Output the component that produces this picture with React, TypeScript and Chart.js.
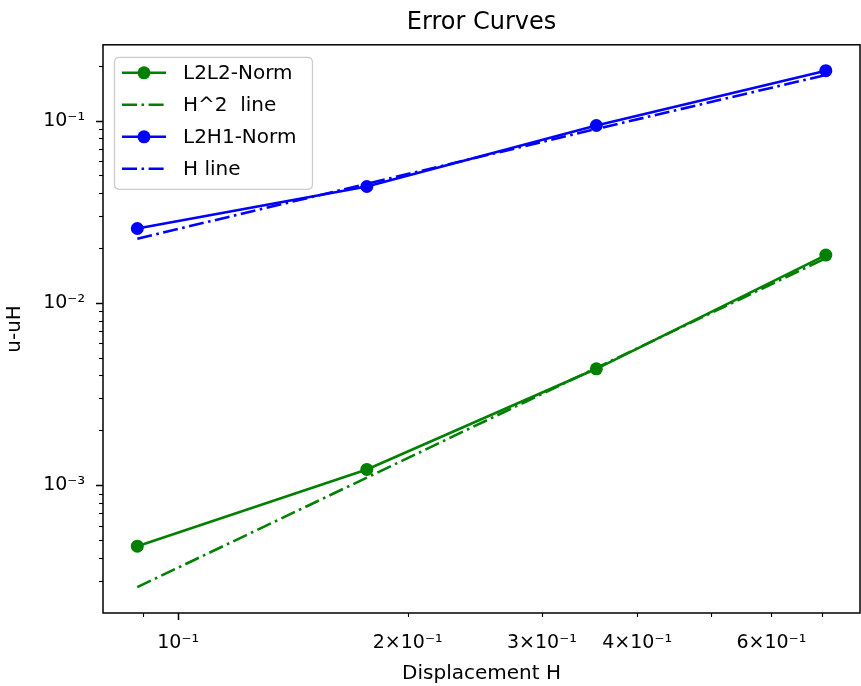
import React, { useEffect, useRef } from 'react';
import { Chart, registerables } from 'chart.js';

Chart.register(...registerables);

// ---- data ----
const H = [0.0884, 0.1768, 0.3536, 0.7071];
const l2l2Norm = [4.63e-4, 1.22e-3, 4.35e-3, 0.0183];
const hSquaredLine = [2.76e-4, 1.1e-3, 4.4e-3, 0.0176];
const l2h1Norm = [0.0256, 0.0435, 0.094, 0.188];
const hLine = [0.0225, 0.045, 0.09, 0.178];
const seriesLabels = ['L2L2-Norm', 'H^2  line', 'L2H1-Norm', 'H line'];
const xTickLabels: [number, string][] = [
  [0.1, '10⁻¹'],
  [0.2, '2×10⁻¹'],
  [0.3, '3×10⁻¹'],
  [0.4, '4×10⁻¹'],
  [0.6, '6×10⁻¹'],
];
const yTickLabels: [number, string][] = [
  [0.1, '10⁻¹'],
  [0.01, '10⁻²'],
  [0.001, '10⁻³'],
];
const xRange = [0.0797, 0.784];
const yRange = [1.99e-4, 0.2606];

const GREEN = '#008000';
const BLUE = '#0000ff';
const FONT = "'DejaVu Sans', sans-serif";
const DASHDOT = [15, 4.5, 2.6, 4.5];

const findLabel = (list: [number, string][], v: number) => {
  const hit = list.find(([t]) => Math.abs(v - t) / t < 1e-6);
  return hit ? hit[1] : '';
};

const drawScaleTicks = (ctx: CanvasRenderingContext2D, scale: any, horizontal: boolean) => {
  const area = scale.chart.chartArea;
  scale.ticks.forEach((t: any) => {
    const v = t.value;
    if (v < scale.min * 0.99999 || v > scale.max * 1.00001) return;
    const e = Math.floor(Math.log10(v) + 1e-9);
    const m = v / Math.pow(10, e);
    if (Math.abs(m - Math.round(m)) > 1e-6) return;
    const major = Math.round(m) === 1;
    const len = major ? 7 : 4;
    const p = Math.round(scale.getPixelForValue(v)) + 0.5;
    ctx.beginPath();
    ctx.lineWidth = major ? 1.5 : 1.1;
    ctx.strokeStyle = '#000';
    if (horizontal) {
      ctx.moveTo(p, area.bottom);
      ctx.lineTo(p, area.bottom + len);
    } else {
      ctx.moveTo(area.left, p);
      ctx.lineTo(area.left - len, p);
    }
    ctx.stroke();
  });
};

const mplPlugin = {
  id: 'mplDecor',
  afterDatasetsDraw(chart: any) {
    const ctx: CanvasRenderingContext2D = chart.ctx;
    const a = chart.chartArea;
    ctx.save();
    // spines
    ctx.strokeStyle = '#000';
    ctx.lineWidth = 1.5;
    ctx.strokeRect(a.left, a.top, a.right - a.left, a.bottom - a.top);
    drawScaleTicks(ctx, chart.scales.x, true);
    drawScaleTicks(ctx, chart.scales.y, false);

    // legend
    const bx = a.left + 11.5;
    const by = a.top + 12.5;
    const bw = 198;
    const bh = 132;
    const r = 5;
    ctx.beginPath();
    ctx.moveTo(bx + r, by);
    ctx.lineTo(bx + bw - r, by);
    ctx.quadraticCurveTo(bx + bw, by, bx + bw, by + r);
    ctx.lineTo(bx + bw, by + bh - r);
    ctx.quadraticCurveTo(bx + bw, by + bh, bx + bw - r, by + bh);
    ctx.lineTo(bx + r, by + bh);
    ctx.quadraticCurveTo(bx, by + bh, bx, by + bh - r);
    ctx.lineTo(bx, by + r);
    ctx.quadraticCurveTo(bx, by, bx + r, by);
    ctx.closePath();
    ctx.fillStyle = 'rgba(255,255,255,0.8)';
    ctx.fill();
    ctx.strokeStyle = '#cccccc';
    ctx.lineWidth = 1.3;
    ctx.stroke();

    chart.data.datasets.forEach((ds: any, i: number) => {
      const y = a.top + 28 + i * 32;
      const x0 = a.left + 19;
      const x1 = a.left + 63;
      ctx.beginPath();
      ctx.setLineDash(ds.borderDash || []);
      ctx.strokeStyle = ds.borderColor;
      ctx.lineWidth = ds.borderWidth;
      ctx.moveTo(x0, y);
      ctx.lineTo(x1, y);
      ctx.stroke();
      ctx.setLineDash([]);
      if (ds.pointRadius > 0) {
        ctx.beginPath();
        ctx.fillStyle = ds.pointBackgroundColor;
        ctx.arc((x0 + x1) / 2, y, ds.pointRadius, 0, Math.PI * 2);
        ctx.fill();
      }
      ctx.fillStyle = '#000';
      ctx.font = `20px ${FONT}`;
      ctx.textBaseline = 'middle';
      ctx.textAlign = 'left';
      ctx.fillText(ds.label, a.left + 80, y + 1);
    });
    ctx.restore();
  },
};

export default function App() {
  const ref = useRef<HTMLCanvasElement>(null);

  useEffect(() => {
    document.body.style.margin = '0';
    Chart.defaults.font.family = FONT;
    const mk = (ys: number[]) => H.map((x, i) => ({ x, y: ys[i] }));
    const chart = new Chart(ref.current as HTMLCanvasElement, {
      type: 'line',
      data: {
        datasets: [
          {
            label: seriesLabels[0],
            data: mk(l2l2Norm),
            borderColor: GREEN,
            backgroundColor: GREEN,
            pointBackgroundColor: GREEN,
            borderWidth: 2.6,
            pointRadius: 6.5,
            pointBorderWidth: 0,
            order: 4,
          },
          {
            label: seriesLabels[1],
            data: mk(hSquaredLine),
            borderColor: GREEN,
            backgroundColor: GREEN,
            borderWidth: 2.6,
            borderDash: DASHDOT,
            pointRadius: 0,
            order: 3,
          },
          {
            label: seriesLabels[2],
            data: mk(l2h1Norm),
            borderColor: BLUE,
            backgroundColor: BLUE,
            pointBackgroundColor: BLUE,
            borderWidth: 2.6,
            pointRadius: 6.5,
            pointBorderWidth: 0,
            order: 2,
          },
          {
            label: seriesLabels[3],
            data: mk(hLine),
            borderColor: BLUE,
            backgroundColor: BLUE,
            borderWidth: 2.6,
            borderDash: DASHDOT,
            pointRadius: 0,
            order: 1,
          },
        ] as any,
      },
      options: {
        responsive: false,
        animation: false,
        devicePixelRatio: 1,
        events: [],
        layout: { autoPadding: false, padding: { left: 0, right: 1, top: 0, bottom: 0 } },
        plugins: {
          legend: { display: false },
          tooltip: { enabled: false },
          title: {
            display: true,
            text: 'Error Curves',
            color: '#000',
            fullSize: false,
            font: { size: 24, weight: 'normal' as any, family: FONT },
            padding: { top: 8, bottom: 8 },
          },
        },
        scales: {
          x: {
            type: 'logarithmic',
            position: 'bottom',
            min: xRange[0],
            max: xRange[1],
            grid: {
              display: true,
              drawOnChartArea: false,
              drawTicks: true,
              tickLength: 7,
              color: 'rgba(0,0,0,0)',
            },
            border: { display: false },
            ticks: {
              autoSkip: false,
              maxRotation: 0,
              minRotation: 0,
              padding: 12,
              color: '#000',
              font: { size: 19, family: FONT },
              callback: (v: any) => findLabel(xTickLabels, Number(v)),
            },
            title: {
              display: true,
              text: 'Displacement H',
              color: '#000',
              font: { size: 20, family: FONT },
              padding: { top: 4, bottom: 0 },
            },
            afterFit: (s: any) => {
              s.height = 73;
            },
          },
          y: {
            type: 'logarithmic',
            position: 'left',
            min: yRange[0],
            max: yRange[1],
            grid: {
              display: true,
              drawOnChartArea: false,
              drawTicks: true,
              tickLength: 7,
              color: 'rgba(0,0,0,0)',
            },
            border: { display: false },
            ticks: {
              autoSkip: false,
              padding: 11,
              color: '#000',
              font: { size: 19, family: FONT },
              callback: (v: any) => findLabel(yTickLabels, Number(v)),
            },
            title: {
              display: true,
              text: 'u-uH',
              color: '#000',
              font: { size: 20, family: FONT },
              padding: { top: 3, bottom: 0 },
            },
            afterFit: (s: any) => {
              s.width = 103;
            },
          },
        },
      } as any,
      plugins: [mplPlugin],
    });
    return () => chart.destroy();
  }, []);

  return (
    <div style={{ width: 861, height: 686, overflow: 'hidden' }}>
      <canvas ref={ref} width={872} height={686} style={{ display: 'block' }} />
    </div>
  );
}
